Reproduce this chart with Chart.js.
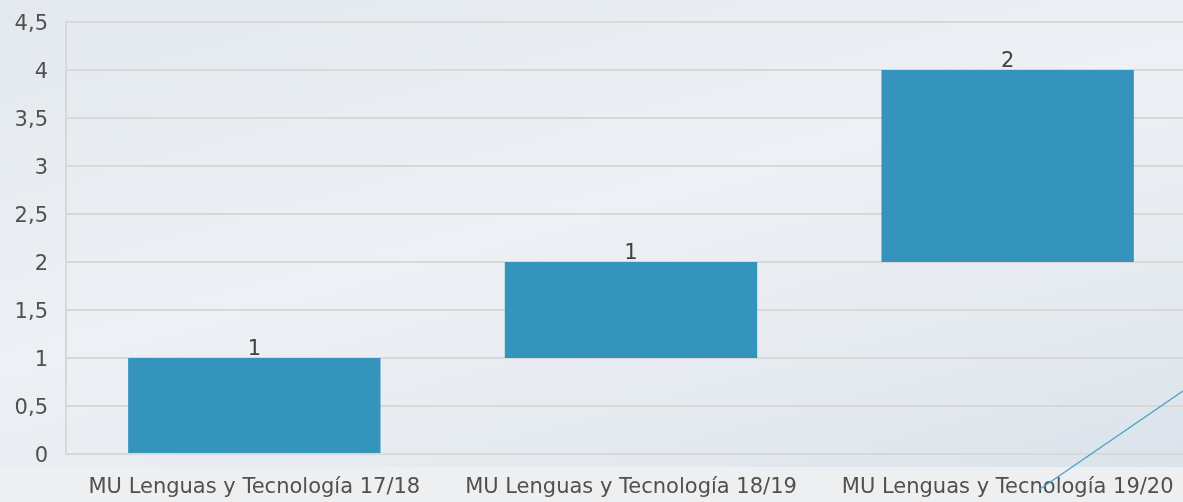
<!DOCTYPE html>
<html>
<head>
<meta charset="utf-8">
<script src="https://cdn.jsdelivr.net/npm/chart.js@4"></script>
<style>
  html, body { margin: 0; padding: 0; overflow: hidden; }
  body { width: 1183px; height: 502px; position: relative;
         background: linear-gradient(165deg, #e3e9ef 0%, #edf0f4 45%, #e6ebf0 70%, #d9e2ea 100%); }
  #strip { position: absolute; left: 0; top: 467px; width: 1183px; height: 35px; background: #eeeff0; }
  #wrap { position: absolute; left: 0; top: 0; width: 1196px; height: 502px; }
</style>
</head>
<body>
<div id="strip"></div>
<div id="wrap"><canvas id="chart"></canvas></div>
<script>
document.addEventListener("DOMContentLoaded", () => {
    const categories = ["MU Lenguas y Tecnología 17/18", "MU Lenguas y Tecnología 18/19", "MU Lenguas y Tecnología 19/20"];
    const increments = [1, 1, 2];
    const yTicks = [0, 0.5, 1, 1.5, 2, 2.5, 3, 3.5, 4, 4.5];

    // Waterfall: each bar floats from the running total
    let running = 0;
    const ranges = increments.map(v => {
        const r = [running, running + v];
        running += v;
        return r;
    });

    // Value labels above each bar
    const valueLabels = {
        id: "valueLabels",
        afterDatasetsDraw(chart) {
            const ctx = chart.ctx;
            const meta = chart.getDatasetMeta(0);
            ctx.save();
            ctx.font = "21px 'DejaVu Sans'";
            ctx.fillStyle = "#404040";
            ctx.textAlign = "center";
            ctx.textBaseline = "alphabetic";
            meta.data.forEach((bar, i) => {
                ctx.fillText(String(increments[i]), bar.x, bar.y - 3);
            });
            ctx.restore();
        }
    };

    // Decorative slide line at bottom right
    const decoLine = {
        id: "decoLine",
        afterDraw(chart) {
            const ctx = chart.ctx;
            ctx.save();
            ctx.strokeStyle = "#4ba6c9";
            ctx.lineWidth = 1.5;
            ctx.beginPath();
            ctx.moveTo(1040, 489);
            ctx.lineTo(1183, 391);
            ctx.stroke();
            ctx.restore();
        }
    };

    new Chart(document.getElementById("chart").getContext("2d"), {
        type: "bar",
        data: {
            labels: categories,
            datasets: [{
                data: ranges,
                backgroundColor: "#3494bc",
                borderWidth: 0,
                barPercentage: 0.67,
                categoryPercentage: 1
            }]
        },
        options: {
            responsive: true,
            maintainAspectRatio: false,
            animation: false,
            layout: { padding: { top: 22, left: 0, right: 0, bottom: 0 } },
            plugins: { legend: { display: false }, tooltip: { enabled: false } },
            scales: {
                x: {
                    grid: { display: false, drawTicks: false },
                    border: { display: false },
                    ticks: { color: "#505050", font: { family: "DejaVu Sans", size: 21 }, padding: 21, maxRotation: 0 },
                    afterFit(scale) { scale.height = 48; scale.paddingTop = 0; scale.paddingBottom = 0; }
                },
                y: {
                    min: 0,
                    max: 4.5,
                    afterBuildTicks(scale) { scale.ticks = yTicks.map(v => ({ value: v })); },
                    grid: { color: "#d8d8d8", lineWidth: 2, drawTicks: false },
                    border: { display: true, color: "#d8d8d8", width: 2 },
                    ticks: {
                        color: "#505050",
                        font: { family: "DejaVu Sans", size: 21 },
                        padding: 18,
                        labelOffset: 3,
                        callback: v => String(v).replace(".", ",")
                    },
                    afterFit(scale) { scale.width = 66; scale.paddingTop = 0; scale.paddingBottom = 0; }
                }
            }
        },
        plugins: [valueLabels, decoLine]
    });
});
</script>
</body>
</html>
